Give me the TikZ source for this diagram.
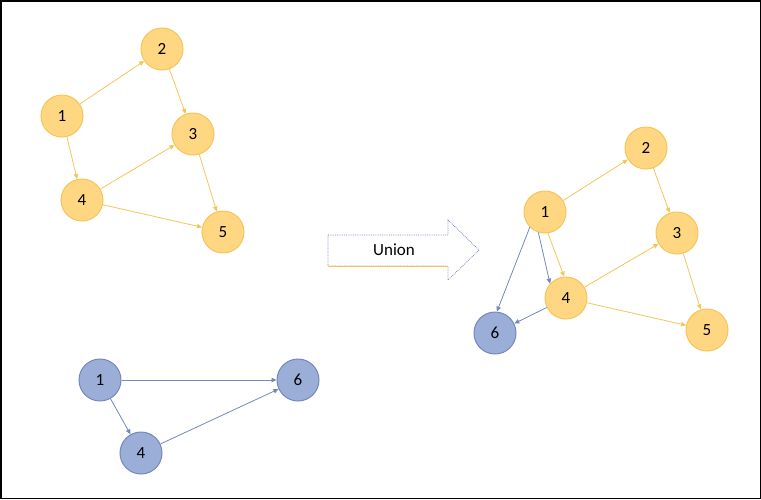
\documentclass[tikz,border=0pt]{standalone}
\usepackage{fontspec}
\setmainfont{Carlito}
\usetikzlibrary{arrows.meta}
\definecolor{ysoft}{HTML}{FFD782}
\definecolor{yline}{HTML}{F5C55A}
\definecolor{bsoft}{HTML}{9AAED8}
\definecolor{bline}{HTML}{7388BC}

\begin{document}
\begin{tikzpicture}[
          x=1pt, y=-1pt,
          every node/.style={
            circle,
            minimum size=42pt,
            inner sep=0pt,
            font=\fontsize{17}{17}\selectfont,
          },
          ynode/.style={draw=yline, fill=ysoft, line width=1pt},
          bnode/.style={draw=bline, fill=bsoft, line width=1pt},
          yedge/.style={draw=yline, line width=0.8pt},
          bedge/.style={draw=bline, line width=0.8pt},
          >={Triangle[length=5pt,width=4.5pt]},
        ]
        \useasboundingbox (0,0) rectangle (761,499);
        \draw[line width=1.5pt] (0.75,0.75) rectangle (760.25,498.25);
        % first graph
        \node[ynode] at (62,116) (a1) {1} ;
        \node[ynode] at (162,49) (a2) {2} ;
        \node[ynode] at (193,134) (a3) {3} ;
        \node[ynode] at (82,200) (a4) {4} ;
        \node[ynode] at (223,232) (a5) {5} ;
        \draw[yedge,->] (a1)--(a2) ;
        \draw[yedge,->] (a1)--(a4) ;
        \draw[yedge,->] (a2)--(a3) ;
        \draw[yedge,->] (a4)--(a3) ;
        \draw[yedge,->] (a3)--(a5) ;
        \draw[yedge,->] (a4)--(a5) ;
        % second graph
        \node[bnode] at (100,380) (b1) {1} ;
        \node[bnode] at (141,453) (b4) {4} ;
        \node[bnode] at (298,380) (b6) {6} ;
        \draw[bedge,->] (b1)--(b6) ;
        \draw[bedge,->] (b1)--(b4) ;
        \draw[bedge,->] (b4)--(b6) ;
        % union arrow
        \draw[bline, fill=white, densely dotted, line width=0.8pt]
          (328,235) -- (448,235) -- (448,220) -- (479,250)
          -- (448,280) -- (448,266) -- (328,266) -- cycle ;
        \draw[yline, line width=0.8pt] (328,266) -- (448,266) ;
        \node at (394,250) (union) {Union} ;
        % union graph
        \node[ynode] at (545,212) (u1) {1} ;
        \node[ynode] at (646,148) (u2) {2} ;
        \node[ynode] at (677,233) (u3) {3} ;
        \node[ynode] at (566,298) (u4) {4} ;
        \node[ynode] at (707,330) (u5) {5} ;
        \node[bnode] at (495,333) (u6) {6} ;
        \draw[yedge,->] (u1)--(u2) ;
        \draw[yedge,->] (u1.-82)--(u4.95) ;
        \draw[yedge,->] (u2)--(u3) ;
        \draw[yedge,->] (u4)--(u3) ;
        \draw[yedge,->] (u3)--(u5) ;
        \draw[yedge,->] (u4)--(u5) ;
        \draw[bedge,->] (u1.-135)--(u6.85) ;
        \draw[bedge,->] (u1.-108)--(u4.138) ;
        \draw[bedge,->] (u4)--(u6) ;
        \end{tikzpicture}
\end{document}
